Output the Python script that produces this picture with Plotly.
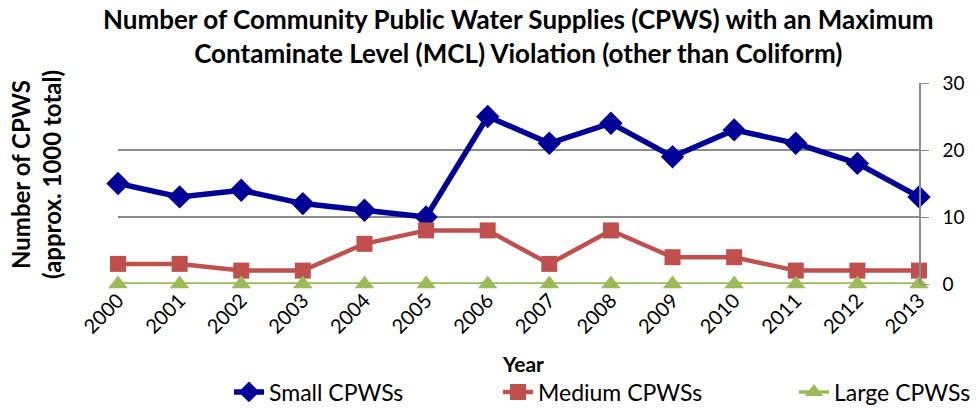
import plotly.graph_objects as go

years = [2000, 2001, 2002, 2003, 2004, 2005, 2006, 2007, 2008, 2009, 2010, 2011, 2012, 2013]
small = [15, 13, 14, 12, 11, 10, 25, 21, 24, 19, 23, 21, 18, 13]
medium = [3, 3, 2, 2, 6, 8, 8, 3, 8, 4, 4, 2, 2, 2]
large = [0, 0, 0, 0, 0, 0, 0, 0, 0, 0, 0, 0, 0, 0]
tick_labels = [str(y) for y in years]
y_ticks = [0, 10, 20, 30]

FONT = "Lato"

fig = go.Figure()
fig.add_trace(go.Scatter(
    x=years, y=small, name="Small CPWSs", mode="lines+markers",
    line=dict(color="#000099", width=5.5),
    marker=dict(symbol="diamond", size=18, color="#000099"),
    cliponaxis=False, legend="legend",
))
fig.add_trace(go.Scatter(
    x=years, y=medium, name="Medium CPWSs", mode="lines+markers",
    line=dict(color="#C0504D", width=4.5),
    marker=dict(symbol="square", size=16, color="#C0504D"),
    cliponaxis=False, legend="legend2",
))
fig.add_trace(go.Scatter(
    x=years, y=large, name="Large CPWSs", mode="lines+markers",
    line=dict(color="#9BBB59", width=3.5),
    marker=dict(symbol="triangle-up", size=17, color="#9BBB59"),
    cliponaxis=False, legend="legend3",
))

def leg(text_start):
    return dict(
        orientation="h", x=(text_start - 39) / 977, xanchor="left", xref="container",
        y=16 / 408, yanchor="middle", yref="container",
        font=dict(size=23, color="#000000"), bgcolor="rgba(0,0,0,0)",
    )

fig.update_layout(
    width=977, height=408,
    margin=dict(l=118, r=58, t=83, b=124, autoexpand=False),
    paper_bgcolor="white", plot_bgcolor="white",
    font=dict(family=FONT, size=17, color="#000000"),
    xaxis=dict(
        range=[2000, 2013], tickmode="array", tickvals=years, ticktext=tick_labels,
        tickangle=-45, showgrid=False, zeroline=False, showline=False,
        tickfont=dict(size=20, color="#000000"), automargin=False,
    ),
    yaxis=dict(
        range=[0, 30], tickmode="array", tickvals=y_ticks, side="right",
        showgrid=True, gridcolor="#8C8C8C", gridwidth=1.5, zeroline=False,
        showline=True, linecolor="#8C8C8C", linewidth=1.5,
        ticks="outside", ticklen=8, tickcolor="#8C8C8C", ticklabelstandoff=10,
        tickfont=dict(size=19, color="#000000"), automargin=False,
    ),
    legend=leg(268),
    legend2=leg(537),
    legend3=leg(833),
    showlegend=True,
)

fig.add_annotation(
    text="<b>Number of Community Public Water Supplies (CPWS) with an Maximum<br>Contaminate Level (MCL) Violation (other than Coliform)</b>",
    xref="paper", yref="paper", x=0.5, y=(284 - 36) / 201, xanchor="center", yanchor="middle",
    showarrow=False, font=dict(family=FONT, size=26, color="#000000"),
)
fig.add_annotation(
    text="<b>Number of CPWS<br>(approx. 1000 total)</b>",
    xref="paper", yref="paper", x=(36 - 118) / 801, y=(284 - 175) / 201,
    xanchor="center", yanchor="middle",
    textangle=-90, showarrow=False, font=dict(family=FONT, size=24, color="#000000"),
)
fig.add_annotation(
    text="<b>Year</b>",
    xref="paper", yref="paper", x=(523 - 118) / 801, y=(284 - 363) / 201,
    xanchor="center", yanchor="middle",
    showarrow=False, font=dict(family=FONT, size=21, color="#000000"),
)

fig.write_html(
    "out.html",
    config={"displayModeBar": False},
    post_script="document.body.style.margin='0';",
)
